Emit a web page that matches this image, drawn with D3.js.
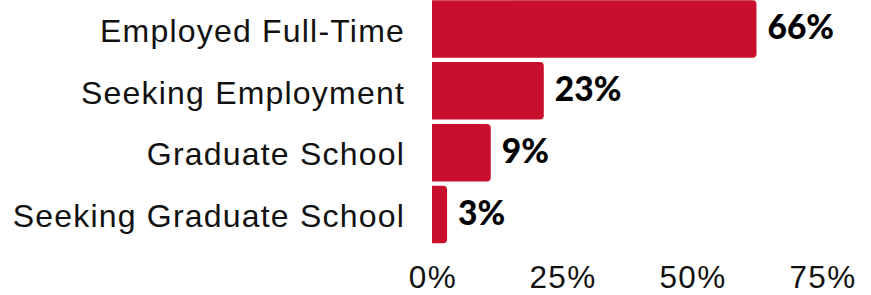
<!DOCTYPE html>
<html><head><meta charset="utf-8">
<script src="https://cdn.jsdelivr.net/npm/d3@7"></script>
<style>
html,body{margin:0;padding:0;background:#fff;}
svg{display:block;}
.sans{font-family:"Liberation Sans", Arial, Helvetica, sans-serif; letter-spacing:1.2px;}
.tick text{letter-spacing:1.4px;}
</style></head>
<body>
<svg id="chart" width="871" height="295"></svg>
<script>
const categories = ["Employed Full-Time","Seeking Employment","Graduate School","Seeking Graduate School"];
const values = [62.4, 21.5, 11.3, 2.9];
const valueLabels = ["66%","23%","9%","3%"];
const tickValues = [0, 25, 50, 75];
const tickLabels = ["0%","25%","50%","75%"];

const svg = d3.select("#chart");
const x = d3.scaleLinear().domain([0, 75]).range([432, 822]);
const y = d3.scaleBand().domain(categories).range([-1, 244.5]).paddingInner(0.07).paddingOuter(0.02);
const color = "#c8102e";
const r = 4;

function barPath(x0, x1, y0, h) {
  const rr = Math.min(r, (x1 - x0) / 2, h / 2);
  return `M${x0},${y0}H${x1 - rr}Q${x1},${y0} ${x1},${y0 + rr}V${y0 + h - rr}Q${x1},${y0 + h} ${x1 - rr},${y0 + h}H${x0}Z`;
}

svg.append("g").selectAll("path").data(categories).join("path")
  .attr("d", (d, i) => barPath(x(0), x(values[i]), y(d), y.bandwidth()))
  .attr("fill", color);

// category labels
svg.append("g").selectAll("text").data(categories).join("text")
  .attr("class", "sans")
  .attr("x", 405)
  .attr("y", d => y(d) + y.bandwidth() / 2)
  .attr("dy", "0.4em")
  .attr("text-anchor", "end")
  .attr("font-size", 32)
  .attr("fill", "#111")
  .text(d => d);

// value labels
svg.append("g").selectAll("text").data(categories).join("text")
  .attr("x", (d, i) => x(values[i]) + 11)
  .attr("y", d => y(d) + y.bandwidth() / 2)
  .attr("dy", "0.3em")
  .attr("font-family", "Lato, sans-serif")
  .attr("font-weight", 900)
  .attr("font-size", 33.5)
  .attr("fill", "#000")
  .text((d, i) => valueLabels[i]);

// x axis
const axis = d3.axisBottom(x).tickValues(tickValues).tickSize(0).tickPadding(0)
  .tickFormat((d, i) => tickLabels[i]);
const g = svg.append("g").attr("transform", "translate(0.5,288)").call(axis);
g.attr("font-family", null).attr("font-size", null);
g.select(".domain").remove();
g.selectAll("text")
  .attr("class", "sans")
  .attr("dy", "0")
  .attr("font-size", 31.5)
  .attr("fill", "#111");
</script>
</body></html>
